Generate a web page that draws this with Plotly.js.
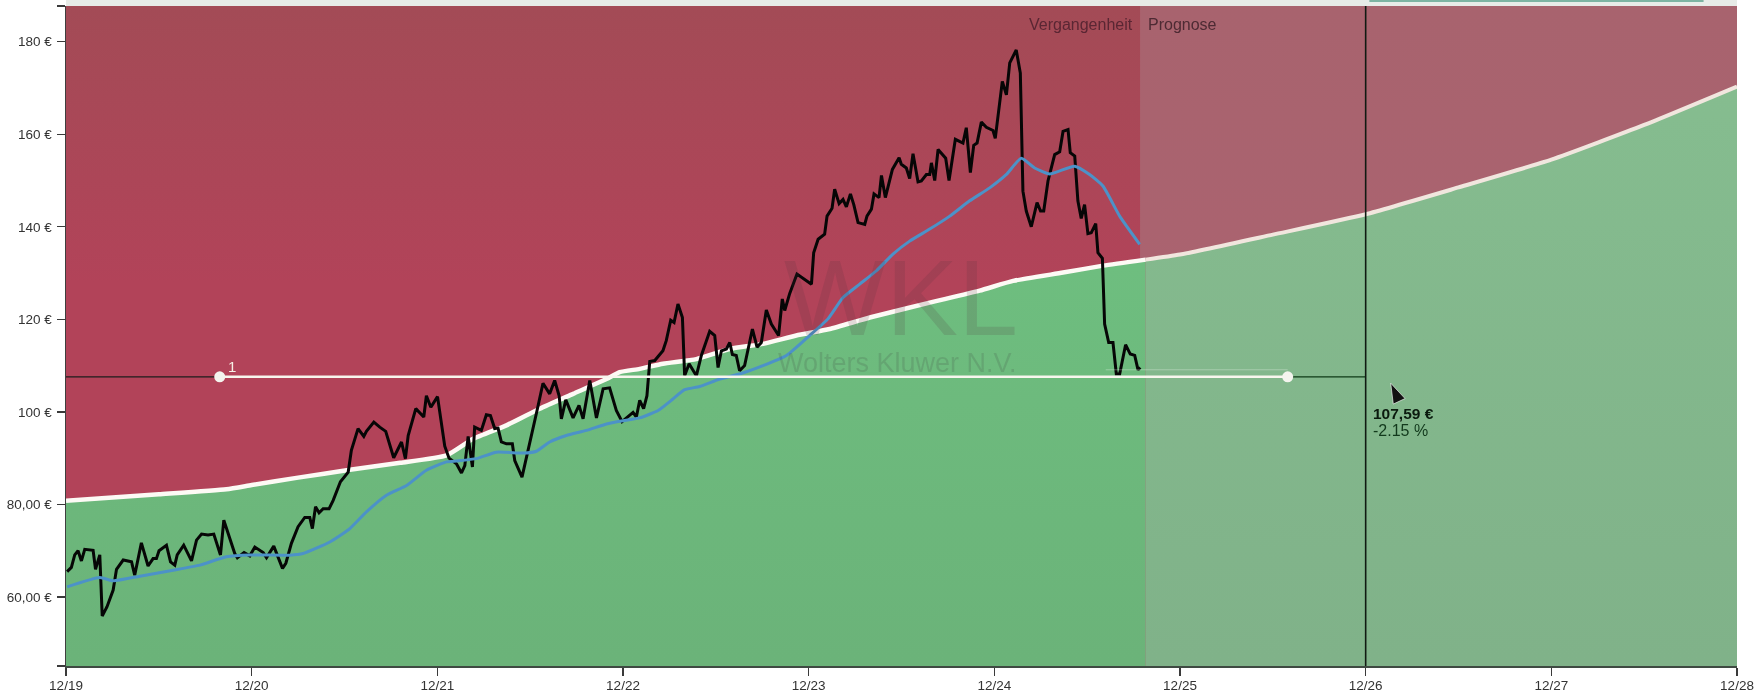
<!DOCTYPE html>
<html>
<head>
<meta charset="utf-8">
<script src="https://cdn.plot.ly/plotly-3.0.1.min.js"></script>
<style>html,body{margin:0;padding:0;background:#fff}#chart{width:1760px;height:698px;filter:blur(.45px)}</style>
</head>
<body>
<div id="chart"></div>
<script>
// time axis: years since 12/19
const tickYears = [0,1,2,3,4,5,6,7,8,9];
const tickDates = ["12/19","12/20","12/21","12/22","12/23","12/24","12/25","12/26","12/27","12/28"];
const priceTicks = [45.1,60,80,100,120,140,160,180,187.7];
const priceTickText = ["","60,00 €","80,00 €","100 €","120 €","140 €","160 €","180 €",""];

const priceT = [.006,.029,.047,.065,.083,.101,.146,.159,.182,.195,.221,.254,.272,.308,.353,.370,.406,.442,.469,.487,.501,.541,.563,.586,.599,.634,.676,.703,.730,.765,.796,.832,.850,.909,.923,.959,.990,
1.017,1.062,1.080,1.119,1.143,1.166,1.184,1.214,1.250,1.286,1.313,1.327,1.344,1.363,1.385,1.417,1.439,1.478,1.520,1.537,1.573,1.604,1.618,1.658,1.690,1.722,1.765,1.807,1.828,1.843,1.884,1.927,1.941,1.965,2.001,2.022,2.040,2.063,
2.103,2.130,2.148,2.166,2.189,2.201,2.237,2.264,2.286,2.309,2.327,2.345,2.372,2.404,2.417,2.456,2.489,2.516,2.537,2.569,2.605,2.632,2.656,2.668,2.692,2.731,2.763,2.785,2.799,2.821,2.857,2.893,2.928,2.964,2.995,3.054,3.072,3.090,
3.111,3.129,3.144,3.171,3.215,3.233,3.257,3.275,3.296,3.320,3.332,3.356,3.395,3.422,3.467,3.494,3.512,3.530,3.557,3.575,3.589,3.610,3.628,3.655,3.697,3.722,3.745,3.772,3.799,3.838,3.858,3.871,3.898,
3.937,4.015,4.027,4.051,4.086,4.099,4.126,4.140,4.164,4.185,4.203,4.225,4.243,4.266,4.302,4.314,4.338,4.352,4.379,4.392,4.413,4.451,4.487,4.499,4.526,4.544,4.562,4.589,4.607,4.634,4.652,4.661,4.679,4.697,4.738,4.756,4.790,4.831,4.849,4.871,4.889,4.907,4.930,
4.957,4.993,5.005,5.043,5.065,5.083,5.118,5.140,5.154,5.172,5.199,5.230,5.249,5.266,5.289,5.325,5.352,5.370,5.397,5.409,5.433,5.450,5.468,5.486,5.504,5.522,5.546,5.558,5.582,5.594,5.616,5.639,5.657,5.675,5.707,5.732,5.756,5.774,5.786];
const priceV = [65.5,66.4,69.1,70.0,67.8,70.3,70.1,66.0,69.1,55.9,57.9,61.5,66.0,68.0,67.6,64.7,71.7,66.7,68.3,68.3,70.0,71.2,67.6,66.9,69.1,71.2,67.8,72.3,73.6,73.4,73.6,69.1,76.6,69.4,68.5,69.6,68.9,
70.8,69.6,68.5,71.0,68.7,66.2,67.3,71.6,75.2,77.2,77.2,74.8,79.5,78.2,79.1,79.1,80.9,84.9,87.0,91.7,96.4,94.7,95.8,97.8,96.7,95.8,90.1,93.5,89.9,94.9,100.7,98.9,103.5,101.0,103.3,97.4,92.6,90.0,
88.8,86.8,88.4,94.7,88.1,96.7,96.0,99.4,99.2,96.4,96.5,93.5,93.1,93.1,89.5,85.9,91.7,96.0,100.3,106.2,103.9,106.8,103.5,98.5,102.6,98.7,101.4,98.5,101.7,106.8,98.7,105.0,105.2,100.3,97.9,99.9,98.9,102.5,
100.7,103.5,110.9,111.1,113.2,115.4,119.8,119.3,123.3,120.4,107.8,110.4,107.8,112.2,117.4,116.5,109.6,113.2,113.6,115.0,112.4,112.2,108.9,110.0,117.9,114.0,115.0,122.0,119.0,116.5,124.4,121.9,125.6,
129.8,127.6,134.4,137.3,138.4,142.3,144.0,148.1,145.0,145.9,144.3,147.1,144.8,140.9,140.5,142.3,143.8,147.1,146.3,151.1,146.3,152.4,154.9,153.5,152.7,150.4,155.8,149.7,149.9,151.3,151.3,153.8,150.0,156.7,154.8,150.0,158.9,158.1,161.4,151.7,157.6,158.1,162.6,
161.5,160.8,159.1,171.4,168.5,175.4,178.2,173.2,147.7,143.4,140.0,145.2,143.4,143.4,149.9,155.6,156.2,160.6,161.0,156.0,155.3,145.6,141.8,144.8,138.5,138.7,140.7,134.4,133.2,119.0,115.0,115.0,108.2,108.2,114.5,112.5,112.2,109.1,109.6];

const avgT = [.006,.182,.254,.398,.577,.721,.864,.99,1.205,1.277,1.421,1.529,1.618,1.726,1.834,1.941,2.049,2.103,2.21,2.318,2.462,2.534,2.605,2.695,2.803,2.911,3.0,3.09,3.189,3.269,3.332,3.413,3.521,3.628,3.754,3.880,4.005,4.104,4.185,4.275,4.365,4.454,4.544,4.652,4.76,4.867,4.975,5.065,5.145,5.217,5.298,5.433,5.513,5.585,5.675,5.783];
const avgV = [62.2,64.2,63.5,64.5,65.8,66.9,68.7,69.1,69.05,69.4,71.9,74.8,78.4,82.0,84.1,87.4,89.2,89.4,89.9,91.3,91.1,91.5,93.5,94.9,96.0,97.4,98.1,98.7,100.3,102.8,104.8,105.5,107.1,108.2,110.0,112.2,116.5,120.1,124.7,127.6,130.5,134.1,136.9,139.5,142.3,145.6,148.4,151.3,154.8,152.7,151.4,153.1,151.3,148.8,142.3,136.2];

const fairPastT = [0,.5,.864,1.0,1.25,1.529,1.8,2.049,2.193,2.372,2.552,2.731,2.911,2.982,3.09,3.215,3.395,3.574,3.754,3.933,4.113,4.329,4.652,4.921,5.101,5.37,5.586,5.815];
const fairPastV = [80.8,82.2,83.3,84.2,85.8,87.5,89.0,90.6,94.2,97.1,100.7,103.9,107.1,108.6,109.3,110.4,111.4,113.6,114.7,116.5,117.9,120.4,123.6,126.2,128.3,130.1,131.6,132.9];
const fairNextT = [5.815,6,6.5,7,7.5,8,8.5,9];
const fairNextV = [132.9,134,138.3,142.7,148.5,154.5,162,170.3];

const axisTop = 187.7, axisBottom = 45.1;
const splitT = 5.785, crossT = 7, levelV = 107.59;
const levelT = [.828, 6.58];
const guideLeftT = [0, .828], guideRightT = [6.58, 7];
const ghostT = [5.6, 6.58], ghostV = [109.1, 109.1];
const cursorT = [7.135], cursorV = [106.2];

const FONT = '"Liberation Sans", Arial, sans-serif';
const vGrad = (a,b,m) => ({type:'vertical', colorscale:[[0,a],[m,b],[1,b]], start:axisTop, stop:axisBottom});
const area = (x,y,a,b,m) => ({x,y,type:'scatter',mode:'none',fill:'tozeroy',fillcolor:b,fillgradient:vGrad(a,b,m),hoverinfo:'skip',showlegend:false});
const line = (x,y,color,width,extra) => Object.assign({x,y,type:'scatter',mode:'lines',line:{color,width,shape:'linear'},hoverinfo:'skip',showlegend:false},extra||{});
const smooth = (x,y,color,width) => ({x,y,type:'scatter',mode:'lines',line:{color,width,shape:'spline',smoothing:.5},hoverinfo:'skip',showlegend:false});

const data = [
  area([0,splitT],[axisTop,axisTop],'#a34b56','#b24359',.42),
  area([splitT,9],[axisTop,axisTop],'#a8636e','#ab6370',.5),
  area(fairPastT,fairPastV,'#70c583','#6bb379',.99),
  area(fairNextT,fairNextV,'#86be90','#80b289',.99),
  smooth(fairPastT,fairPastV,'#fdfaf5',4.5),
  smooth(fairNextT,fairNextV,'#f1e6de',4),
  line(priceT,priceV,'#060606',3),
  smooth(avgT,avgV,'#4c92c8',3),
  line(guideLeftT,[levelV,levelV],'#1c1c1c',1.2),
  line(guideRightT,[levelV,levelV],'#0e3a16',1.2),
  line(ghostT,ghostV,'rgba(255,255,255,.3)',1),
  line([crossT,crossT],[axisBottom,axisTop],'#101a12',1.6),
  line(levelT,[levelV,levelV],'#f8f6ee',2.6,{mode:'lines+markers',marker:{color:'#f4f4ee',size:11}}),
  {x:cursorT,y:cursorV,type:'scatter',mode:'markers',marker:{symbol:'arrow',angle:-25,size:21,color:'#111',line:{color:'rgba(255,255,255,.6)',width:1}},hoverinfo:'skip',showlegend:false}
];

const note = (x,y,text,size,color,xanchor,extra) => Object.assign({x,y,xref:'x',yref:'y',text,showarrow:false,xanchor,yanchor:'middle',font:{family:FONT,size,color}},extra||{});
const layout = {
  width:1760,height:698,autosize:false,
  margin:{l:66,r:23,t:6,b:32,pad:0},
  paper_bgcolor:'#fff',plot_bgcolor:'#b04458',showlegend:false,
  xaxis:{type:'linear',range:[0,9],tickmode:'array',tickvals:tickYears,ticktext:tickDates,ticks:'outside',ticklen:8,tickwidth:1.3,tickcolor:'#3a3a3a',showgrid:false,zeroline:false,showline:true,linecolor:'#3f4a42',linewidth:1.5,ticklabelstandoff:-2,tickfont:{family:FONT,size:13.5,color:'#333'}},
  yaxis:{type:'linear',range:[axisBottom,axisTop],tickmode:'array',tickvals:priceTicks,ticktext:priceTickText,ticks:'outside',ticklen:8,tickwidth:1.3,tickcolor:'#3a3a3a',showgrid:false,zeroline:false,showline:true,linecolor:'#3f3f3f',linewidth:1.5,ticklabelstandoff:2,tickfont:{family:FONT,size:13.5,color:'#333'}},
  annotations:[
    note(4.495,124.7,'WKL',108,'rgba(80,50,60,.16)','center'),
    note(4.48,110.6,'Wolters Kluwer N.V.',27,'rgba(60,60,60,.17)','center'),
    note(5.76,183.6,'Vergangenheit',16,'#5a2633','right'),
    note(5.815,183.6,'Prognose',16,'#4d2a33','left'),
    note(.895,109.8,'1',15,'#f6efe6','center'),
    note(7.03,99.6,'<b>107,59 €</b>',15.5,'#0a1a0e','left'),
    note(7.03,95.9,'-2.15 %',16,'#12391c','left')
  ],
  shapes:[
    {type:'rect',xref:'paper',yref:'paper',x0:0,x1:1,y0:1,y1:1.0095,fillcolor:'#e7ebe7',line:{width:0},layer:'below'},
    {type:'rect',xref:'x',yref:'paper',x0:7.02,x1:8.82,y0:1.006,y1:1.0095,fillcolor:'#7db3a2',line:{width:0},layer:'below'}
  ]
};
Plotly.newPlot('chart',data,layout,{displayModeBar:false,staticPlot:true});
</script>
</body>
</html>
